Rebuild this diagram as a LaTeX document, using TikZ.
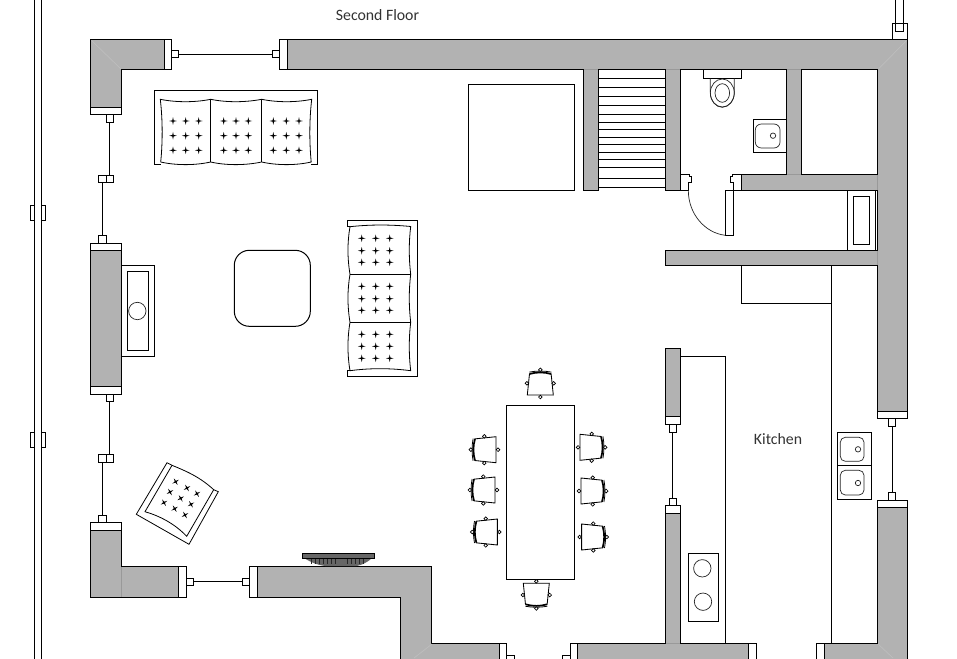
\documentclass[tikz,border=0pt]{standalone}
\usepackage{fontspec}
\setmainfont{Carlito}
\definecolor{wallgray}{HTML}{B2B2B2}
\definecolor{seamlight}{HTML}{BEBEBE}
\definecolor{seamdark}{HTML}{999999}
\tikzset{
  x=1pt,y=-1pt,
  line/.style={draw=black,line width=1pt,line join=miter},
  thin line/.style={draw=black!85,line width=0.7pt},
  wall/.style={line,fill=wallgray},
  whitebox/.style={line,fill=white},
  label text/.style={text=black!80,font=\fontsize{15.8}{17}\selectfont,inner sep=0pt},
  starmark/.pic={
    \fill[black] (-3.8,0)--(-0.7,-0.7)--(0,-3.8)--(0.7,-0.7)--(3.8,0)--(0.7,0.7)--(0,3.8)--(-0.7,0.7)--cycle;
  },
  chairpic/.pic={
    \draw[line,line width=0.85pt,fill=white] (-10.8,-9.6)--(-13,11.7)--(13,11.7)--(10.8,-9.6);
    \draw[line,line width=1.7pt] (-10.8,-9.3) .. controls (-4,-11.4) and (4,-11.4) .. (10.8,-9.3);
    \draw[line,line width=0.8pt] (-11,-11.2) .. controls (-4,-12.6) and (4,-12.6) .. (11,-11.2);
    \foreach \cx/\cy in {0/-13.5,-13.4/0,13.4/0,0/13.7}
      \draw[line,line width=0.7pt,fill=white] (\cx,\cy) circle[radius=1.8];
  }
}
\begin{document}
\begin{tikzpicture}
\clip (0,0) rectangle (957,658);
\fill[white] (0,0) rectangle (957,658);

% left rail
\draw[line] (34.7,-2)--(34.7,662) (41.7,-2)--(41.7,662);
\draw[line] (34.7,205.3)--(30.5,205.3)--(30.5,220.3)--(34.7,220.3);
\draw[line] (41.7,205.3)--(45.5,205.3)--(45.5,220.3)--(41.7,220.3);
\draw[line] (34.7,432.3)--(30.5,432.3)--(30.5,447.3)--(34.7,447.3);
\draw[line] (41.7,432.3)--(45.5,432.3)--(45.5,447.3)--(41.7,447.3);

\node[label text] (floorlabel) at (377.5,15.5) {Second Floor};
\node[label text] (kitchenlabel) at (778,439) {Kitchen};

% top right stub
\draw[line] (892.3,39.5)--(892.3,23.3)--(907.5,23.3)--(907.5,39.5);
\draw[line] (895.3,-2)--(895.3,31.7)--(903.3,31.7)--(903.3,-2);

% north-west corner wall
\draw[wall] (164,39.5)--(90.5,39.5)--(90.5,107.5)--(121.7,107.5)--(121.7,69.5)--(164,69.5)--cycle;
\draw[seamlight,line width=0.7pt] (91.5,40.5)--(121,69);
\draw[whitebox] (164,39.5) rectangle (171.7,69.5);
\draw[whitebox] (90.5,107.5) rectangle (121.7,114.5);

% north window
\draw[whitebox] (171.7,50.3) rectangle (178.7,57.7);
\draw[line] (178.7,54.3)--(272.3,54.3);
\draw[whitebox] (272.3,50.3) rectangle (279.3,57.7);
\draw[whitebox] (279.3,39.5) rectangle (287.3,69.5);

% main top + right wall
\draw[wall] (287.3,39.5)--(907.5,39.5)--(907.5,411.3)--(877.5,411.3)--(877.5,265.7)--(665.3,265.7)--(665.3,250.3)--(877.5,250.3)--(877.5,190.3)--(741.3,190.3)--(741.3,174.3)--(786.7,174.3)--(786.7,69.5)--(680.7,69.5)--(680.7,190.3)--(665.3,190.3)--(665.3,69.5)--(598.7,69.5)--(598.7,190.3)--(583.3,190.3)--(583.3,69.5)--(287.3,69.5)--cycle;
\draw[whitebox] (801.3,69.5) rectangle (877.5,174.3);
\draw[seamlight,line width=0.7pt] (878.5,69)--(906.5,40.5);
\draw[seamdark,line width=0.6pt] (583.8,69.5)--(598.2,69.5) (665.8,69.5)--(680.2,69.5) (787.2,69.5)--(800.8,69.5) (787.2,174.3)--(800.8,174.3) (877.5,174.8)--(877.5,189.8) (877.5,250.8)--(877.5,265.2);

% stairs
\foreach \sy in {78.3,87.3,96.3,105.3,114.3,122.3,129.7,137,144.3,152,159.3,167.3,178.3,187.3}
  \draw[line] (598.7,\sy)--(665.3,\sy);

% toilet
\draw[whitebox] (703.3,69.5) rectangle (741.7,78.3);
\draw[thin line] (710.3,78.5)--(710.3,92) .. controls (710.3,101) and (716,107.3) .. (722.3,107.3) .. controls (728.6,107.3) and (734.3,101) .. (734.3,92)--(734.3,78.5);
\draw[thin line] (722.3,93) ellipse[x radius=12,y radius=14];
\draw[thin line] (722.3,93) ellipse[x radius=7.3,y radius=9.3];

% basin
\draw[whitebox] (753.3,119.3) rectangle (786.7,152.3);
\draw[thin line,rounded corners=6pt] (755.3,124) rectangle (780,148);
\draw[thin line] (773,135.7) circle[radius=2.7];

% door
\draw[whitebox] (680.7,174.3)--(689,174.3)--(689,176.7)--(691.7,176.7)--(691.7,182.7)--(688.3,182.7)--(688.3,190.3)--(680.7,190.3)--cycle;
\draw[whitebox] (741.3,174.3)--(732.7,174.3)--(732.7,176.7)--(730.3,176.7)--(730.3,182.7)--(733.3,182.7)--(733.3,190.3)--(741.3,190.3)--cycle;
\draw[whitebox] (725.3,190.3) rectangle (733.3,235.3);
\draw[thin line] (688.3,190.3) .. controls (688.3,214) and (705,233) .. (725.3,235.3);

% bath
\draw[line] (847.3,190.3)--(847.3,250.3) (875.3,190.3)--(875.3,250.3);
\draw[line] (853.3,196.3) rectangle (869.7,244.7);

% bed
\draw[line] (468.3,84.3) rectangle (574.7,190.3);

% under-bath cupboards
\draw[line] (741.3,265.7)--(741.3,303)--(831.3,303);
\draw[line] (831.3,265.7)--(831.3,643.3);

% west wall and windows
\draw[whitebox] (106.3,114.5) rectangle (113.7,122.3);
\draw[line] (109.5,122.3)--(109.5,175.3);
\draw[whitebox] (98.3,175.3) rectangle (106.3,182.7);
\draw[whitebox] (106.3,175.3) rectangle (113.7,182.7);
\draw[line] (102.3,182.7)--(102.3,235.3);
\draw[whitebox] (98.3,235.3) rectangle (106.3,243.3);
\draw[whitebox] (90.5,243.3) rectangle (121.7,250.3);
\draw[wall] (90.5,250.3) rectangle (121.7,386);
\draw[whitebox] (90.5,386) rectangle (121.7,394.3);
\draw[whitebox] (106.3,394.3) rectangle (113.7,401.3);
\draw[line] (109.7,401.3)--(109.7,454.3);
\draw[whitebox] (98.3,454.3) rectangle (106.3,462.3);
\draw[whitebox] (106.3,454.3) rectangle (113.7,462.3);
\draw[line] (102.3,462.3)--(102.3,515.7);
\draw[whitebox] (98.3,515.7) rectangle (106.3,522.7);
\draw[whitebox] (90.5,522.7) rectangle (121.7,530.7);

% south-west corner
\draw[wall] (90.5,530.7)--(121.7,530.7)--(121.7,566.3)--(178.3,566.3)--(178.3,597.3)--(90.5,597.3)--cycle;
\draw[seamdark,line width=0.6pt] (121.7,566.8)--(121.7,596.8);
\draw[whitebox] (178.3,566.3) rectangle (186.7,597.3);
\draw[whitebox] (186.7,578.3) rectangle (193.7,585.7);
\draw[line] (193.7,581.5)--(242.3,581.5);
\draw[whitebox] (242.3,578.5) rectangle (249.3,585.7);
\draw[whitebox] (249.3,566.3) rectangle (257.3,597.3);

% south walls
\draw[wall] (257.3,566.3)--(431.3,566.3)--(431.3,643.3)--(499.3,643.3)--(499.3,664)--(400.3,664)--(400.3,597.3)--(257.3,597.3)--cycle;
\draw[seamlight,line width=0.7pt] (432,644)--(414,658);
\draw[whitebox] (499.3,643.3) rectangle (506.7,664);
\draw[whitebox] (506.7,655.7) rectangle (514.3,664);
\draw[whitebox] (562.3,655.7) rectangle (570.3,664);
\draw[whitebox] (570.3,643.3) rectangle (577.3,664);
\draw[wall] (577.3,643.3)--(665.3,643.3)--(665.3,513.3)--(680.7,513.3)--(680.7,643.3)--(748.3,643.3)--(748.3,664)--(577.3,664)--cycle;
\draw[seamdark,line width=0.6pt] (665.8,643.3)--(680.2,643.3);
\draw[whitebox] (748.3,643.3) rectangle (756.3,664);
\draw[whitebox] (816.3,643.3) rectangle (824.3,664);
\draw[wall] (824.3,643.3)--(877.5,643.3)--(877.5,507.7)--(907.5,507.7)--(907.5,664)--(824.3,664)--cycle;
\draw[seamlight,line width=0.7pt] (878,644)--(893,658);

% east window
\draw[whitebox] (877.5,411.3) rectangle (907.5,418.3);
\draw[whitebox] (888.3,418.3) rectangle (895.7,426.7);
\draw[line] (892.3,426.7)--(892.3,492.3);
\draw[whitebox] (888.3,492.3) rectangle (895.7,500.3);
\draw[whitebox] (877.5,500.3) rectangle (907.5,507.7);

% kitchen partition
\draw[wall] (665.3,348.3) rectangle (680.7,416.3);
\draw[whitebox] (665.3,416.3) rectangle (680.7,424.3);
\draw[whitebox] (669.3,424.3) rectangle (676.7,432.3);
\draw[line] (672.7,432.3)--(672.7,498.7);
\draw[whitebox] (669.3,498.7) rectangle (676.7,505.3);
\draw[whitebox] (665.3,505.3) rectangle (680.7,513.3);

% kitchen counter, hob, sinks
\draw[line] (680.7,356.3)--(725.3,356.3)--(725.3,643.3);
\draw[line] (688.3,553.3) rectangle (718.7,621.3);
\draw[thin line] (702.3,568.3) circle[radius=8.7];
\draw[thin line] (703,601.7) circle[radius=8.7];
\draw[line] (837.3,432.3) rectangle (871.7,465.3);
\draw[line] (837.3,465.3) rectangle (871.7,499.3);
\draw[thin line,rounded corners=5pt] (840.3,437.3) rectangle (864,461.3);
\draw[thin line,rounded corners=5pt] (840.3,470.3) rectangle (864,495);
\draw[thin line] (858,449.3) circle[radius=2.7];
\draw[thin line] (858,483) circle[radius=2.7];

% sofa, north
\draw[line] (160.7,164.3)--(154.3,164.3)--(154.3,91)--(317.7,91)--(317.7,164.3)--(311.2,164.3);
\draw[line,line width=0.8pt] (160.3,99.3) .. controls (176,102.5) and (195,102.5) .. (210.7,99.3) .. controls (226,102.5) and (245,102.5) .. (261.7,99.3) .. controls (277,102.5) and (296,102.5) .. (311.7,99.3) .. controls (309.3,120) and (309.3,142) .. (311.2,162) .. controls (296,165.5) and (277,165.5) .. (261.7,162) .. controls (245,165.5) and (226,165.5) .. (210.7,162) .. controls (195,165.5) and (176,165.5) .. (160.7,162) .. controls (162.7,142) and (162.7,120) .. cycle;
\draw[line] (210.7,99.3)--(210.7,162) (261.7,99.3)--(261.7,162);
\foreach \sx in {173,185.7,198.7,223.7,236,248.3,273.3,286.3,299}
  \foreach \sy in {121,135.7,150.3}
    \pic at (\sx,\sy) {starmark};

% sofa, centre
\draw[line] (349.5,226.7)--(347.3,226.7)--(347.3,220.3)--(417.3,220.3)--(417.3,376.3)--(347.3,376.3)--(347.3,370.7)--(349.5,370.7);
\draw[line,line width=0.8pt] (350,226.7) .. controls (370,224.5) and (390,224.5) .. (410.7,226.5) .. controls (408.8,242) and (408.8,258) .. (410.7,274.3) .. controls (408.8,290) and (408.8,306) .. (410.7,322.3) .. controls (408.8,338) and (408.8,355) .. (410.7,370.7) .. controls (390,368) and (370,368) .. (350,370.7) .. controls (347.3,355) and (347.3,338) .. (350,322.3) .. controls (347.3,306) and (347.3,290) .. (350,274.3) .. controls (347.3,258) and (347.3,242) .. cycle;
\draw[line] (350,274.3)--(410.7,274.3) (350,322.3)--(410.7,322.3);
\foreach \sx in {361.7,375.7,389.7}
  \foreach \sy in {238.3,250.7,262.3,286.3,298.7,310.3,334.3,346.3,358.3}
    \pic at (\sx,\sy) {starmark};

% low table
\draw[line,rounded corners=15pt] (234.3,250.3) rectangle (310.3,326.3);

% fireplace unit
\draw[line] (121.7,265.3)--(154.7,265.3)--(154.7,356.3)--(121.7,356.3);
\draw[line] (127.3,271.3) rectangle (148.7,350.3);
\draw[thin line] (137.3,311) circle[radius=8.7];

% armchair
\draw[line,line width=0.8pt] (167,462.7)--(136.3,514.3)--(189,544.3)--(218.3,491.7)--(213.7,489.7) .. controls (200,477) and (186,471) .. (172,465.3)--cycle;
\draw[line,line width=0.8pt] (172,465.3)--(145,511.7) .. controls (160,516) and (175,524) .. (186.7,536.3)--(213.7,489.7);
\foreach \sx/\sy in {347/185,381/204,411/221,330/216,362/235,393/253,312/248,344/266,375/285}
  \pic[rotate=30] at ({60+\sx/3},{420+\sy/3}) {starmark};

% wall-mounted object
\fill[black!60] (304,558) .. controls (312,563) and (318,565) .. (325,566)--(356.7,566) .. controls (362,565) and (368,562) .. (372,558)--cycle;
\foreach \tx in {311,315,319,323,327,331,335,347,351,355,359,363}
  \draw[black!85,line width=0.5pt] (\tx,559)--(\tx,564);
\draw[line,fill=black!60] (302.7,553.6) rectangle (374,558);
\draw[line] (302.7,553.6)--(374,553.6);

% dining table and chairs
\draw[line] (506.3,405.3) rectangle (574.7,579.3);
\pic at (540.3,383.3) {chairpic};
\pic[rotate=180] at (536.3,595) {chairpic};
\pic[rotate=90] at (484.3,449.7) {chairpic};
\pic[rotate=90] at (483.3,490) {chairpic};
\pic[rotate=90] at (485.7,532) {chairpic};
\pic[rotate=-90] at (591.7,447.3) {chairpic};
\pic[rotate=-90] at (592.7,491) {chairpic};
\pic[rotate=-90] at (593.3,537) {chairpic};
\end{tikzpicture}
\end{document}
